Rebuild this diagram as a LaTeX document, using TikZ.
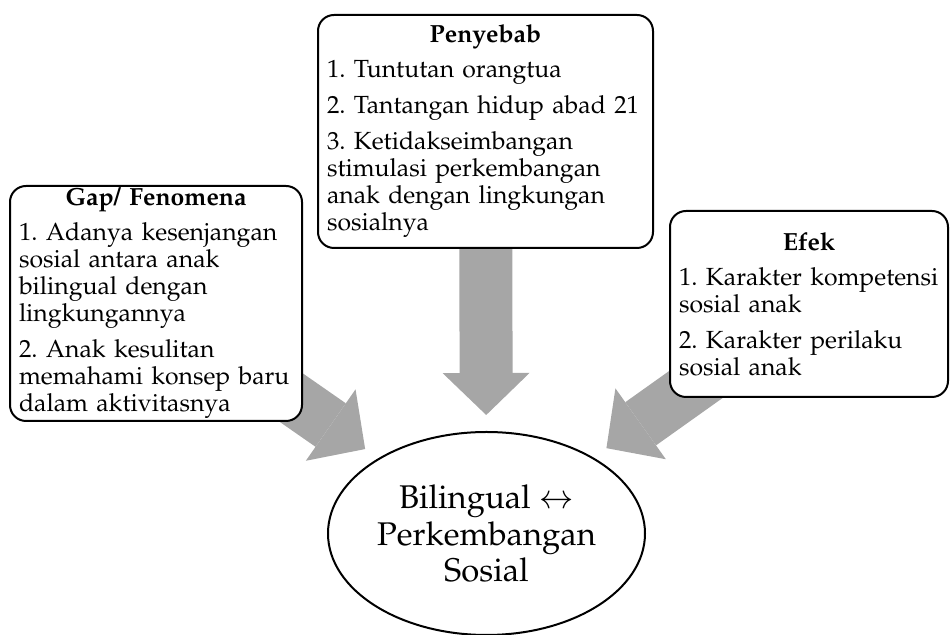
\documentclass[tikz,border=0pt]{standalone}
\usepackage[T1]{fontenc}
\usepackage{mathpazo}
\usepackage{tikz}
\usetikzlibrary{arrows.meta,shapes.geometric,backgrounds}
\definecolor{flowgray}{HTML}{A6A6A6}
\newcommand{\boxtitle}[1]{\hfill\textbf{#1}\hfill\null}
\frenchspacing

\begin{document}
\begin{tikzpicture}[x=0.5pt, y=-0.5pt,
    box/.style={draw, line width=1pt, rounded corners=8pt, fill=white, align=left,
                inner xsep=4.5pt, inner ysep=0pt, font=\fontsize{12.4}{13.5}\selectfont},
    hub/.style={draw, line width=1pt, ellipse, fill=white, align=center, inner sep=0pt,
                minimum width=158.5pt, minimum height=101.5pt, font=\fontsize{16.4}{18.4}\selectfont},
    flow/.style={line width=26.5pt, draw=flowgray, shorten >=8pt,
                 -{Triangle[length=21pt 0, width=43.5pt 0, line width=0pt]}}
  ]
    \useasboundingbox (0,0) rectangle (950,635);
    \node[box, text width=137pt, minimum height=117.5pt] (gap) at (156,303.5)
      {\boxtitle{Gap/ Fenomena}\\[4pt]
       1. Adanya kesenjangan\\ sosial antara anak\\ bilingual dengan\\ lingkungannya\\[4.5pt]
       2. Anak kesulitan\\ memahami konsep baru\\ dalam aktivitasnya};
    \node[box, text width=158.5pt, minimum height=116.5pt] (cause) at (485.5,131.5)
      {\boxtitle{Penyebab}\\[4pt]
       1. Tuntutan orangtua\\[4.5pt]
       2. Tantangan hidup abad 21\\[4.5pt]
       3. Ketidakseimbangan\\ stimulasi perkembangan\\ anak dengan lingkungan\\ sosialnya};
    \node[box, text width=130pt, minimum height=93pt] (effect) at (809,304)
      {\boxtitle{Efek}\\[4pt]
       1. Karakter kompetensi\\ sosial anak\\[4.5pt]
       2. Karakter perilaku\\ sosial anak};
    \node[hub] (core) at (486.5,533.5) {Bilingual $\leftrightarrow$\\ Perkembangan\\ Sosial};

    \begin{pgfonlayer}{background}
      \draw[flow] (gap.center) -- (core);
      \draw[flow] (cause.center) -- (core);
      \draw[flow] (effect.center) -- (core);
    \end{pgfonlayer}
  \end{tikzpicture}
\end{document}
